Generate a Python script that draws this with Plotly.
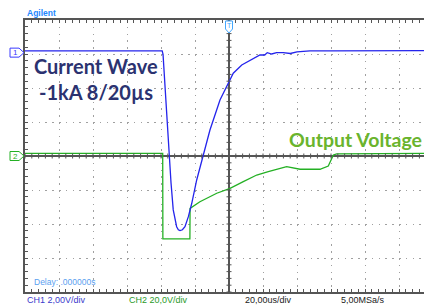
import numpy as np
import plotly.graph_objects as go

# ---- data (time in µs, CH1 in V @2V/div, CH2 in V @20V/div) ----
ch1_t = [-120, -39.3, -38.8, -37.6, -36.1, -35.1, -34.1, -32.8, -30.8, -29.8, -28.8,
         -27.4, -25.9, -23.9, -21.9, -19.0, -15.1, -11.2, -5.3, -0.4, 2.5, 7.5, 12.4,
         18.2, 21.0, 22.5, 25.1, 28.0, 31.9, 36.0, 40.0, 47.6, 60.0, 80.0, 100.0, 114.7]
ch1_v = [0.1, 0.1, -0.1, -2.2, -4.16, -6.12, -7.67, -9.25, -10.24, -10.42, -10.47,
         -10.42, -10.24, -9.65, -8.86, -7.49, -6.02, -4.55, -2.79, -1.8, -1.21, -0.73, -0.44,
         -0.14, -0.14, 0.0, -0.08, 0.0, 0.0, -0.05, 0.05, 0.1, 0.1, 0.12, 0.1, 0.12]

ch2_t = [-120, -39.0, -38.9, -23.0, -22.9, -17.1, -7.2, 0.6, 8.4, 16.3, 23.1, 33.9,
         41.8, 53.5, 58.4, 61.4, 63.4, 80.0, 100.0, 114.7]
ch2_v = [1.6, 1.6, -48.8, -48.8, -30.8, -26.9, -21.9, -19.0, -15.1, -11.2, -9.2, -6.3,
         -7.8, -7.8, -5.9, 0.6, 1.2, 1.4, 1.5, 1.5]

t_range = [-120, 114.7]
ch2_range = [-80, 80]
ch1_range = [-14.08, 1.92]

labels_bottom = ["CH1 2,00V/div", "CH2 20,0V/div", "20,00us/div", "5,00MSa/s"]

BLUE = "#2424ec"
GREEN = "#24b024"
AX = "#555555"

fig = go.Figure()
fig.add_trace(go.Scatter(x=ch2_t, y=ch2_v, mode="lines", line=dict(color=GREEN, width=1.3),
                         yaxis="y", hoverinfo="skip"))
fig.add_trace(go.Scatter(x=ch1_t, y=ch1_v, mode="lines", line=dict(color=BLUE, width=1.3),
                         yaxis="y2", hoverinfo="skip"))

shapes = []
# center cross ticks
h = 1.47
for xv in np.arange(-120, 115, 4):
    shapes.append(dict(type="line", xref="x", yref="y", x0=xv, x1=xv, y0=-h, y1=h,
                       line=dict(color=AX, width=1), layer="above"))
for yv in np.arange(-80, 81, 4):
    shapes.append(dict(type="line", xref="x", yref="y", x0=-h, x1=h, y0=yv, y1=yv,
                       line=dict(color=AX, width=1), layer="above"))

marker_path = "M -15,4.5 L -6,4.5 L -1,0 L -6,-4.5 L -15,-4.5 Z"
shapes.append(dict(type="path", xref="paper", yref="y2", xsizemode="pixel", ysizemode="pixel",
                   xanchor=0, yanchor=0, path=marker_path, line=dict(color="#3a3aff", width=1),
                   fillcolor="white"))
shapes.append(dict(type="path", xref="paper", yref="y", xsizemode="pixel", ysizemode="pixel",
                   xanchor=0, yanchor=0, path=marker_path, line=dict(color=GREEN, width=1),
                   fillcolor="white"))
shapes.append(dict(type="path", xref="x", yref="paper", xsizemode="pixel", ysizemode="pixel",
                   xanchor=0, yanchor=1, path="M -3.5,-1 L 3.5,-1 L 3.5,-9 L 0,-13 L -3.5,-9 Z",
                   line=dict(color="#45a8ff", width=1), fillcolor="white"))

annotations = [
    dict(text="<b>Agilent</b>", x=0, y=1.0, xref="paper", yref="paper", xanchor="left",
         yanchor="bottom", showarrow=False, font=dict(family="Liberation Sans", size=8.5, color="#1e88ff")),
    dict(text="<b>Current Wave</b>", x=0.178, y=0.831, xref="paper", yref="paper", xanchor="center",
         yanchor="middle", showarrow=False, font=dict(family="Lato", size=20, color="#2b3270")),
    dict(text="<b>-1kA 8/20µs</b>", x=0.178, y=0.737, xref="paper", yref="paper", xanchor="center",
         yanchor="middle", showarrow=False, font=dict(family="Lato", size=20, color="#2b3270")),
    dict(text="<b>Output Voltage</b>", x=1.0, y=0.562, xref="paper", yref="paper", xanchor="right",
         yanchor="middle", showarrow=False, font=dict(family="Lato", size=19.5, color="#6ab42d")),
    dict(text="Delay: .000000s", x=0.018, y=0.035, xref="paper", yref="paper", xanchor="left",
         yanchor="middle", showarrow=False, font=dict(family="Liberation Sans", size=8.5, color="#5aa0f0")),
    dict(text="1", x=0, y=0, xref="paper", yref="y2", xshift=-10, xanchor="center", yanchor="middle",
         showarrow=False, font=dict(family="Liberation Sans", size=8, color="#3a3aff")),
    dict(text="2", x=0, y=0, xref="paper", yref="y", xshift=-10, xanchor="center", yanchor="middle",
         showarrow=False, font=dict(family="Liberation Sans", size=8, color=GREEN)),
    dict(text="T", x=0, y=1, xref="x", yref="paper", yshift=-5, xanchor="center", yanchor="middle",
         showarrow=False, font=dict(family="Liberation Sans", size=7, color="#45a8ff")),
]
bx = [0.0, 0.2556, 0.546, 0.787]
bcol = ["#3a3acc", "#2a9a2a", "#222222", "#222222"]
for lab, xx, cc in zip(labels_bottom, bx, bcol):
    annotations.append(dict(text=lab, x=xx, y=-0.03, xref="paper", yref="paper", xanchor="left",
                            yanchor="middle", showarrow=False,
                            font=dict(family="Liberation Sans", size=9, color=cc)))

fig.update_layout(
    width=424, height=307, margin=dict(l=25, r=0, t=20, b=15),
    paper_bgcolor="white", plot_bgcolor="white", showlegend=False,
    shapes=shapes, annotations=annotations,
    xaxis=dict(range=t_range, tick0=0, dtick=20, showticklabels=False, showgrid=True,
               gridcolor="#a0a0a0", griddash="1.5px,5.3px", gridwidth=1,
               zeroline=True, zerolinecolor=AX, zerolinewidth=1.5,
               showline=True, linecolor=AX, linewidth=1.5, mirror="allticks",
               ticks="inside", ticklen=3, tickcolor=AX,
               minor=dict(dtick=4, ticks="inside", ticklen=3, tickcolor=AX, showgrid=False)),
    yaxis=dict(range=ch2_range, tick0=0, dtick=20, showticklabels=False, showgrid=True,
               gridcolor="#a0a0a0", griddash="1.5px,5.3px", gridwidth=1,
               zeroline=True, zerolinecolor=AX, zerolinewidth=1.5,
               showline=True, linecolor=AX, linewidth=2,
               ticks="inside", ticklen=3, tickcolor=AX,
               minor=dict(dtick=4, ticks="inside", ticklen=3, tickcolor=AX, showgrid=False)),
    yaxis2=dict(range=ch1_range, overlaying="y", visible=False),
)
fig.write_html("out.html", config={"displayModeBar": False},
               post_script="document.body.style.margin='0';document.body.style.overflow='hidden';")
